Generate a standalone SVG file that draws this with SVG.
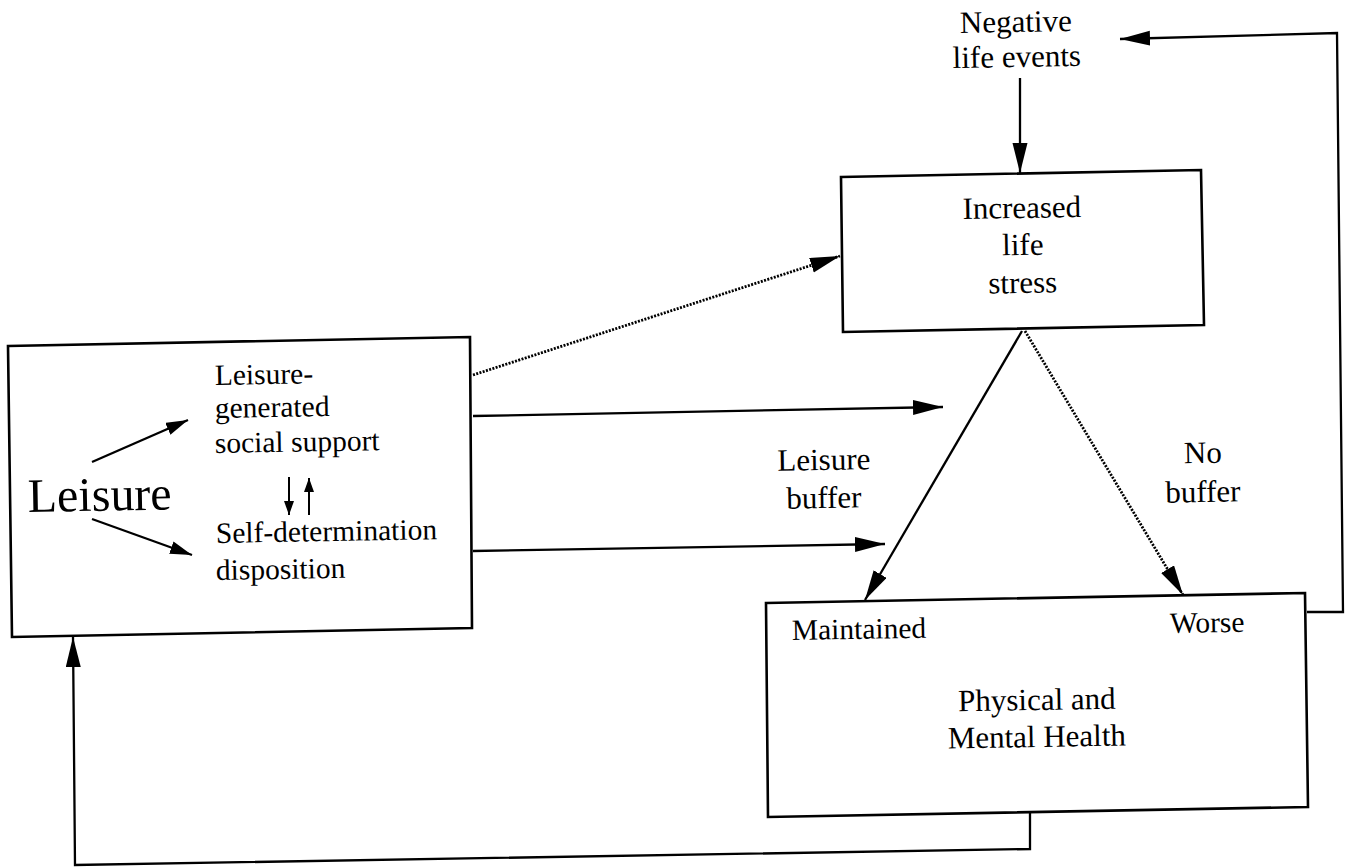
<svg xmlns="http://www.w3.org/2000/svg" width="1345" height="867" viewBox="0 0 1345 867">
  <style>
    .box { fill: #ffffff; stroke: #000000; stroke-width: 2.6; stroke-linejoin: miter; }
    .lbl { font-family: "Liberation Serif", "Times New Roman", serif; fill: #000000; }
    .t31 { font-size: 31px; }
    .t29 { font-size: 29.5px; }
    .big { font-size: 48px; }
    .mid { text-anchor: middle; }
    .ln { fill: none; stroke: #000000; stroke-width: 2.3; }
    .dot { fill: none; stroke: #000000; stroke-width: 2.8; stroke-dasharray: 2 1.4; }
    .thin { fill: none; stroke: #000000; stroke-width: 2; }
  </style>
  <defs>
    <marker id="head" markerUnits="userSpaceOnUse" markerWidth="32" markerHeight="16" refX="30" refY="7.5" orient="auto">
      <path d="M0,0 L30,7.5 L0,15 Z" fill="#000000"/>
    </marker>
    <marker id="headMid" markerUnits="userSpaceOnUse" markerWidth="24" markerHeight="14" refX="22" refY="6.5" orient="auto">
      <path d="M0,0 L22,6.5 L0,13 Z" fill="#000000"/>
    </marker>
    <marker id="headSmall" markerUnits="userSpaceOnUse" markerWidth="16" markerHeight="12" refX="14" refY="5" orient="auto">
      <path d="M0,0 L14,5 L0,10 Z" fill="#000000"/>
    </marker>
  </defs>

  <rect x="0" y="0" width="1345" height="867" fill="#ffffff"/>

  <!-- Leisure box with its two mechanisms -->
  <g id="leisure">
    <polygon class="box" points="8,346 470,337 472,628 12,637"/>
    <text class="lbl big" x="28" y="512" transform="rotate(-1 28 512)">Leisure</text>
    <text class="lbl t29" x="215" y="385" transform="rotate(-1 215 385)">Leisure-</text>
    <text class="lbl t29" x="215" y="418" transform="rotate(-1 215 418)">generated</text>
    <text class="lbl t29" x="215" y="453" transform="rotate(-1 215 453)">social support</text>
    <text class="lbl t29" x="216" y="543" transform="rotate(-1 216 543)">Self-determination</text>
    <text class="lbl t29" x="216" y="580" transform="rotate(-1 216 580)">disposition</text>
    <line class="ln" x1="92" y1="462" x2="188" y2="420" marker-end="url(#headMid)"/>
    <line class="ln" x1="92" y1="519" x2="192" y2="555" marker-end="url(#headMid)"/>
    <line class="thin" x1="289" y1="477" x2="289" y2="515" marker-end="url(#headSmall)"/>
    <line class="thin" x1="309" y1="515" x2="309" y2="478" marker-end="url(#headSmall)"/>
  </g>

  <!-- Negative life events -->
  <g id="events">
    <text class="lbl t31 mid" x="1016" y="32" transform="rotate(-1 1016 32)">Negative</text>
    <text class="lbl t31 mid" x="1017" y="67" transform="rotate(-1 1017 67)">life events</text>
  </g>

  <!-- Increased life stress -->
  <g id="stress">
    <polygon class="box" points="841,177 1201,170 1204,325 843,332"/>
    <text class="lbl t31 mid" x="1022" y="218" transform="rotate(-1 1022 218)">Increased</text>
    <text class="lbl t31 mid" x="1023" y="255" transform="rotate(-1 1023 255)">life</text>
    <text class="lbl t31 mid" x="1023" y="293" transform="rotate(-1 1023 293)">stress</text>
  </g>

  <!-- Buffer labels -->
  <g id="buffer-labels">
    <text class="lbl t31 mid" x="824" y="470" transform="rotate(-1 824 470)">Leisure</text>
    <text class="lbl t31 mid" x="824" y="508" transform="rotate(-1 824 508)">buffer</text>
    <text class="lbl t31 mid" x="1203" y="463" transform="rotate(-1 1203 463)">No</text>
    <text class="lbl t31 mid" x="1203" y="502" transform="rotate(-1 1203 502)">buffer</text>
  </g>

  <!-- Physical and Mental Health -->
  <g id="health">
    <polygon class="box" points="766,603 1305,593 1308,807 768,817"/>
    <text class="lbl t29" x="792" y="640" transform="rotate(-1 792 640)">Maintained</text>
    <text class="lbl t29" x="1170" y="633" transform="rotate(-1 1170 633)">Worse</text>
    <text class="lbl t31 mid" x="1037" y="710" transform="rotate(-1 1037 710)">Physical and</text>
    <text class="lbl t31 mid" x="1037" y="747" transform="rotate(-1 1037 747)">Mental Health</text>
  </g>

  <!-- Connectors -->
  <g id="connectors">
    <line class="ln" x1="1020" y1="78" x2="1020" y2="173" marker-end="url(#head)"/>
    <line class="dot" x1="473" y1="375" x2="840" y2="256" marker-end="url(#head)"/>
    <line class="ln" x1="473" y1="416" x2="943" y2="407" marker-end="url(#head)"/>
    <line class="ln" x1="473" y1="551" x2="885" y2="544" marker-end="url(#head)"/>
    <line class="ln" x1="1022" y1="331" x2="865" y2="600" marker-end="url(#head)"/>
    <line class="dot" x1="1025" y1="331" x2="1183" y2="595" marker-end="url(#head)"/>
    <polyline class="ln" points="1307,612 1343,612 1337,33 1120,39" marker-end="url(#head)"/>
    <polyline class="ln" points="1030,812 1030,849 75,865 73,637" marker-end="url(#head)"/>
  </g>
</svg>
